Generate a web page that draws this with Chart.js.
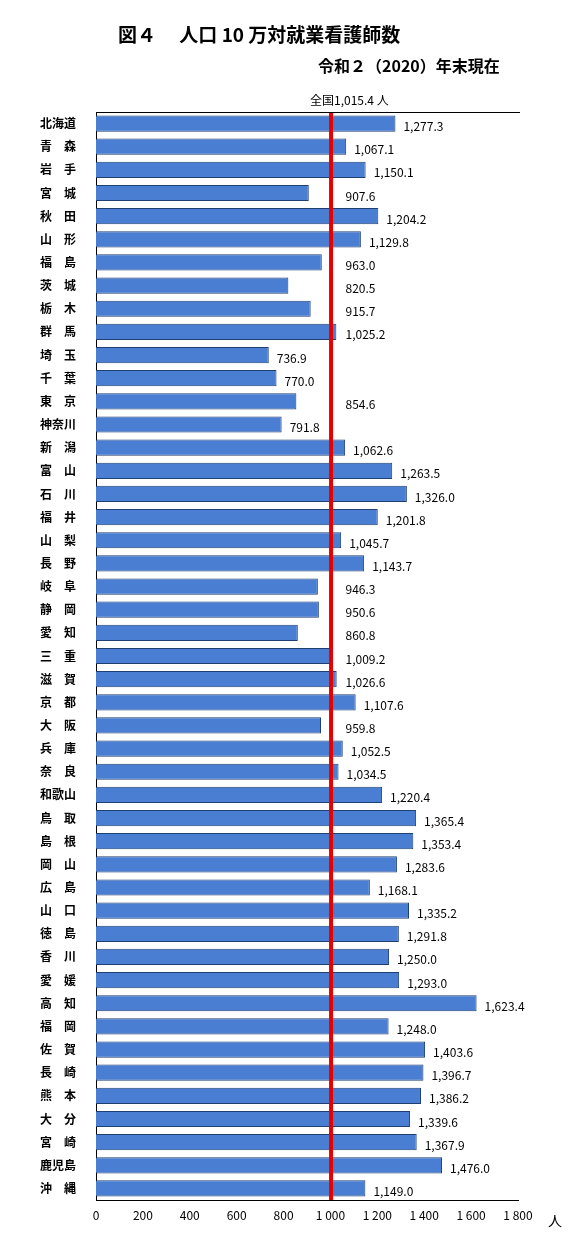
<!DOCTYPE html>
<html><head><meta charset="utf-8">
<script src="https://cdn.jsdelivr.net/npm/chart.js@4"></script>
<style>body{margin:0;background:#fff}canvas{display:block}</style>
</head><body>
<canvas id="c" width="583" height="1238" style="width:583px;height:1238px"></canvas>
<script>
// Prefectures and nurses per 100k population (2020)
const prefectures = ['北海道','青　森','岩　手','宮　城','秋　田','山　形','福　島','茨　城','栃　木','群　馬','埼　玉','千　葉','東　京','神奈川','新　潟','富　山','石　川','福　井','山　梨','長　野','岐　阜','静　岡','愛　知','三　重','滋　賀','京　都','大　阪','兵　庫','奈　良','和歌山','鳥　取','島　根','岡　山','広　島','山　口','徳　島','香　川','愛　媛','高　知','福　岡','佐　賀','長　崎','熊　本','大　分','宮　崎','鹿児島','沖　縄'];
const nurses = [1277.3,1067.1,1150.1,907.6,1204.2,1129.8,963.0,820.5,915.7,1025.2,736.9,770.0,854.6,791.8,1062.6,1263.5,1326.0,1201.8,1045.7,1143.7,946.3,950.6,860.8,1009.2,1026.6,1107.6,959.8,1052.5,1034.5,1220.4,1365.4,1353.4,1283.6,1168.1,1335.2,1291.8,1250.0,1293.0,1623.4,1248.0,1403.6,1396.7,1386.2,1339.6,1367.9,1476.0,1149.0];
const nationalAvg = 1015.4;
const xTicks = [0,200,400,600,800,1000,1200,1400,1600,1800];

const font = '"Noto Sans CJK JP", sans-serif';
const fmt = v => v.toLocaleString('en-US', {minimumFractionDigits: 1, maximumFractionDigits: 1});

const overlay = {
    id: 'overlay',
    afterDatasetsDraw(chart) {
        const {ctx, chartArea, scales} = chart;
        const x = scales.x, y = scales.y;
        ctx.save();
        // value labels
        ctx.font = '12px ' + font;
        ctx.fillStyle = '#000';
        ctx.textBaseline = 'middle';
        nurses.forEach((v, i) => {
            const base = (v > 800 && v < 1030) ? 1030 : v;
            ctx.fillText(fmt(v), x.getPixelForValue(base) + 8, y.getPixelForValue(i) + 3);
        });
        // national average line
        const ax = x.getPixelForValue(nationalAvg) - 3;
        ctx.strokeStyle = '#e60000';
        ctx.lineWidth = 4;
        ctx.beginPath();
        ctx.moveTo(ax, chartArea.top);
        ctx.lineTo(ax, chartArea.bottom);
        ctx.stroke();
        // top rule
        ctx.strokeStyle = '#000';
        ctx.lineWidth = 1;
        ctx.beginPath();
        ctx.moveTo(chartArea.left, chartArea.top + 0.5);
        ctx.lineTo(chartArea.right + 2, chartArea.top + 0.5);
        ctx.stroke();
        // titles
        ctx.textBaseline = 'alphabetic';
        ctx.font = 'bold 19px ' + font;
        ctx.fillText('図４　 人口 10 万対就業看護師数', 118, 42);
        ctx.font = 'bold 16px ' + font;
        ctx.fillText('令和２（2020）年末現在', 318, 72);
        ctx.font = '12px ' + font;
        ctx.fillText('全国1,015.4 人', 310, 105);
        ctx.font = '14px ' + font;
        ctx.fillText('人', 548, 1226);
        ctx.restore();
    }
};

new Chart(document.getElementById('c'), {
    type: 'bar',
    data: {
        labels: prefectures,
        datasets: [{
            data: nurses,
            backgroundColor: '#4a7ed2',
            borderColor: '#1f3f73',
            borderWidth: 1,
            barPercentage: 0.7,
            categoryPercentage: 1
        }]
    },
    plugins: [overlay],
    options: {
        indexAxis: 'y',
        responsive: false,
        animation: false,
        layout: { padding: { top: 112, right: 65, left: 0, bottom: 0 } },
        plugins: { legend: { display: false }, tooltip: { enabled: false } },
        scales: {
            x: {
                min: 0, max: 1800,
                afterBuildTicks: s => { s.ticks = xTicks.map(v => ({value: v})); },
                afterFit: s => { s.height = 38; },
                grid: { display: false, drawTicks: true, tickLength: 5, color: '#000' },
                border: { color: '#000' },
                ticks: {
                    color: '#000',
                    font: { family: font, size: 12 },
                    maxRotation: 0,
                    autoSkip: false,
                    callback: v => v >= 1000 ? Math.floor(v / 1000) + ' ' + String(v % 1000).padStart(3, '0') : String(v)
                }
            },
            y: {
                afterFit: s => { s.width = 96; },
                grid: { display: false },
                border: { color: '#000' },
                ticks: {
                    color: '#000',
                    font: { family: font, size: 12, weight: 'bold' },
                    padding: 12
                }
            }
        }
    }
});
</script>
</body></html>
